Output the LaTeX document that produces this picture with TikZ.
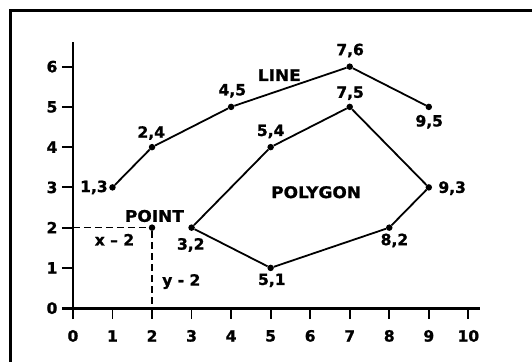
\documentclass[tikz,border=0pt]{standalone}
\usepackage{fontspec}
\setmainfont{DejaVu Sans}
\newfontfamily\heavyfont{DejaVu Sans Bold}[FakeBold=1.2]
\newfontfamily\widefont{DejaVu Sans Bold}[FakeBold=1.2, FakeStretch=1.06]
\tikzset{
  dot/.style={circle, fill, inner sep=0pt, minimum size=6.5pt},
  lbl/.style={font=\heavyfont\fontsize{15.5}{18}\selectfont, inner sep=1pt},
  word/.style={font=\widefont\fontsize{16}{18}\selectfont, inner sep=1pt},
  seg/.style={line width=1.8pt},
  guide/.style={line width=1.5pt, dash pattern=on 7pt off 4pt},
}
\begin{document}
\begin{tikzpicture}[x=39.56pt,y=40.27pt]
\useasboundingbox (-1.845,-1.333) rectangle (11.61,7.656);
\draw[line width=3pt] (-1.572,-1.333) -- (-1.572,7.383) -- (11.61,7.383);

\draw[line width=2.2pt] (0,-0.27) -- (0,6.6);
\draw[line width=3pt] (-0.28,0) -- (10.3,0);
\foreach \i in {1,...,10} \draw[line width=1.8pt] (\i,0) -- (\i,-0.27);
\foreach \i in {1,...,6} \draw[line width=1.8pt] (-0.28,\i) -- (0,\i);
\foreach \i in {0,...,10} \node[lbl] (x\i) at (\i,-0.69) {\i};
\foreach \i in {0,...,6} \node[lbl] (y\i) at (-0.53,\i) {\i};

\node[dot] (l13) at (1,3) {};
\node[dot] (l24) at (2,4) {};
\node[dot] (l45) at (4,5) {};
\node[dot] (l76) at (7,6) {};
\node[dot] (l95) at (9,5) {};

\node[dot] (g32) at (3,2) {};
\node[dot] (g54) at (5,4) {};
\node[dot] (g75) at (7,5) {};
\node[dot] (g93) at (9,3) {};
\node[dot] (g82) at (8,2) {};
\node[dot] (g51) at (5,1) {};

\node[dot] (pt) at (2,2) {};
\coordinate (px) at (0,2);
\coordinate (py) at (2,0);

\node[lbl] (t13) at (0.53,3.0) {1,3};
\node[lbl] (t24) at (1.98,4.35) {2,4};
\node[lbl] (t45) at (4.03,5.40) {4,5};
\node[word] (line) at (5.22,5.79) {LINE};
\node[lbl] (t76) at (7.01,6.40) {7,6};
\node[lbl] (t95) at (9.01,4.63) {9,5};

\node[lbl] (t75) at (7.01,5.34) {7,5};
\node[lbl] (t54) at (5.0,4.39) {5,4};
\node[word] (poly) at (6.15,2.88) {POLYGON};
\node[lbl] (t93) at (9.59,2.98) {9,3};
\node[lbl] (t32) at (2.98,1.57) {3,2};
\node[lbl] (t51) at (5.03,0.69) {5,1};
\node[lbl] (t82) at (8.13,1.68) {8,2};

\node[word] (point) at (2.06,2.29) {POINT};
\node[lbl] (xval) at (1.05,1.70) {x \textendash{} 2};
\node[lbl] (yval) at (2.74,0.66) {y - 2};

\draw[seg] (l13) -- (l24) -- (l45) -- (l76) -- (l95);
\draw[seg] (g32) -- (g54) -- (g75) -- (g93) -- (g82) -- (g51) -- (g32);
\draw[guide] (px) -- (pt);
\draw[guide] (pt) -- (py);
\end{tikzpicture}
\end{document}
